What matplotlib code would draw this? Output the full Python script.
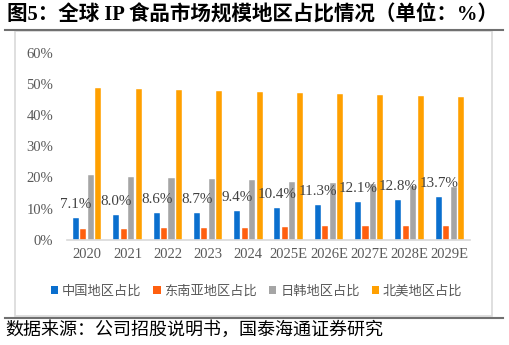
import matplotlib.pyplot as plt
import numpy as np
from matplotlib.patches import Patch, Rectangle
from matplotlib.lines import Line2D

plt.rcParams['font.family'] = ['Noto Sans CJK SC', 'DejaVu Sans']

years = ['2020', '2021', '2022', '2023', '2024', '2025E', '2026E', '2027E', '2028E', '2029E']
china = [7.1, 8.0, 8.6, 8.7, 9.4, 10.4, 11.3, 12.1, 12.8, 13.7]
sea = [3.5, 3.6, 3.7, 3.9, 4.0, 4.2, 4.4, 4.4, 4.5, 4.5]
japan_korea = [20.7, 20.3, 19.9, 19.6, 19.1, 18.6, 18.2, 17.8, 17.4, 17.0]
north_america = [48.6, 48.2, 47.9, 47.6, 47.3, 47.0, 46.6, 46.3, 46.0, 45.8]

series_names = ['中国地区占比', '东南亚地区占比', '日韩地区占比', '北美地区占比']
colors = ['#0A6FCE', '#FF5F0F', '#A5A5A5', '#FFA000']

serif = ['Liberation Serif', 'Noto Sans CJK SC']

fig = plt.figure(figsize=(5.1, 3.45), dpi=100)
ax = fig.add_axes([67 / 510, 1 - 240 / 345, (470 - 67) / 510, (240 - 52.5) / 345])

x = np.arange(len(years))
width = 0.15
pitch = 0.185
all_series = [china, sea, japan_korea, north_america]
for i, vals in enumerate(all_series):
    ax.bar(x + (i - 1.5) * pitch, vals, width, color=colors[i],
           edgecolor='white', linewidth=0.3)

# value labels above the China bars
for xi, v in zip(x, china):
    ax.annotate(f'{v:.1f}%', (xi - 1.5 * pitch, v), xytext=(0, 5),
                textcoords='offset points', ha='center', va='bottom',
                fontsize=10.8, color='#404040', family=serif)

ax.set_xlim(-0.5, len(years) - 0.5)
ax.set_ylim(0, 60)
ax.set_yticks(range(0, 61, 10))
ax.set_yticklabels([f'{t}%' for t in range(0, 61, 10)])
ax.set_xticks(x)
ax.set_xticklabels(years)
for lab in ax.get_xticklabels() + ax.get_yticklabels():
    lab.set_family(serif)
    lab.set_fontsize(10.5)
    lab.set_color('#595959')
ax.tick_params(length=0, pad=6)
ax.tick_params(axis='y', pad=10)
for s in ['top', 'right', 'left']:
    ax.spines[s].set_visible(False)
ax.spines['bottom'].set_color('#D9D9D9')
ax.spines['bottom'].set_linewidth(1.2)

handles = [Patch(facecolor=c) for c in colors]
fig.legend(handles, series_names, loc='center', bbox_to_anchor=(0.503, 1 - 291 / 345),
           ncol=4, frameon=False, fontsize=9.5, labelcolor='#595959',
           handlelength=0.55, handleheight=0.55, handletextpad=0.3, columnspacing=0.9)

# outer chart frame
fig.patches.append(Rectangle((15.5 / 510, 1 - 315.5 / 345), (492 - 15.5) / 510, (315.5 - 30.5) / 345,
                             transform=fig.transFigure, fill=False, edgecolor='#D9D9D9', linewidth=1.2))
fig.lines.append(Line2D([5 / 510, 503 / 510], [1 - 30 / 345] * 2, transform=fig.transFigure,
                        color='#707070', linewidth=1.5))
fig.lines.append(Line2D([5 / 510, 503 / 510], [1 - 317.5 / 345] * 2, transform=fig.transFigure,
                        color='#707070', linewidth=1.5))

fig.text(7 / 510, 1 - 15 / 345, '图5：全球 IP 食品市场规模地区占比情况（单位：%）',
         ha='left', va='center', fontsize=14.8, fontweight='bold', family=serif)
fig.text(5 / 510, 1 - 330 / 345, '数据来源：公司招股说明书，国泰海通证券研究',
         ha='left', va='center', fontsize=13, color='black')

fig.savefig('out.png', dpi=100)
